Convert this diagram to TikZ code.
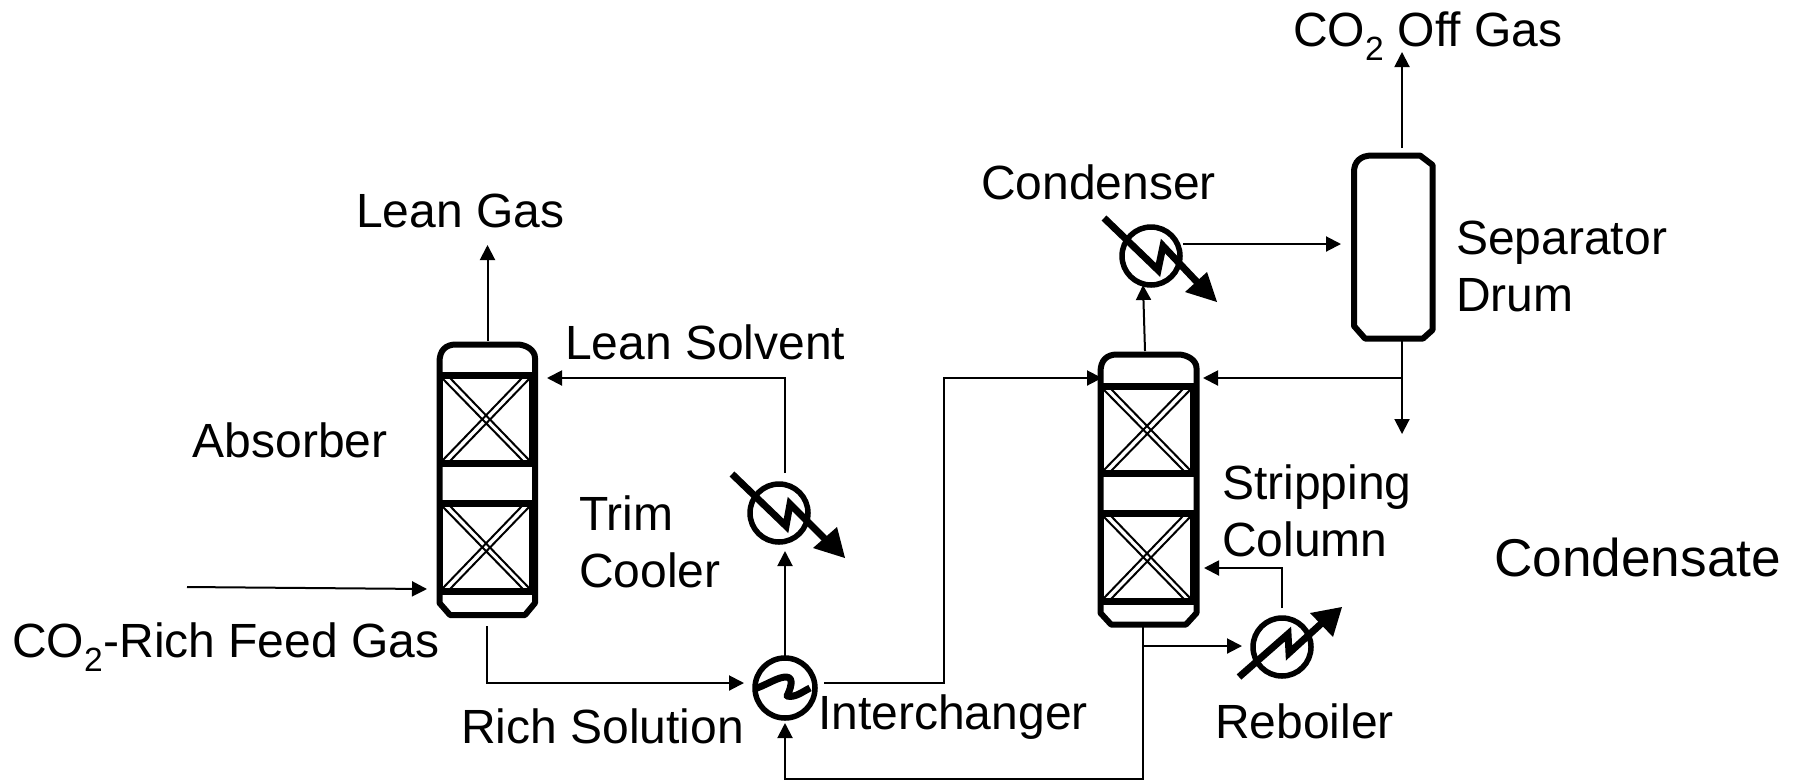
\documentclass[tikz,border=0pt]{standalone}
\usepackage{fontspec}
\setmainfont{Liberation Sans}
\usetikzlibrary{arrows.meta}
\tikzset{
  x=1pt,y=-1pt,
  flow/.style={line width=2pt,-{Triangle[length=15pt,width=15pt]}},
  vessel/.style={line width=6pt,line join=round},
  bar/.style={line width=6pt},
  packing/.style={line width=2pt},
  hxcircle/.style={circle,draw,line width=5.5pt,minimum size=58pt,inner sep=0pt,outer sep=0pt},
  hxline/.style={line width=7pt,miter limit=10},
  anchorbox/.style={inner sep=0pt,outer sep=0pt,draw=none},
  lab/.style={anchor=base west,inner sep=0pt,font=\fontsize{48}{57}\selectfont,align=left},
  labbig/.style={anchor=base west,inner sep=0pt,font=\fontsize{53.2}{60}\selectfont}
}
\newcommand{\packsection}[4]{%
  \draw[packing] (#1,#2) rectangle (#3,#4);
  \draw[packing] (#1,#2) -- (#3-7,#4) (#1+8,#2) -- (#3,#4)
                 (#1,#4) -- (#3-8,#2) (#1+8,#4) -- (#3,#2);
}
\begin{document}
\begin{tikzpicture}
\useasboundingbox (0,0) rectangle (1795,780);
\fill[white] (0,0) rectangle (1795,780);

% vessels (named)
\node[anchorbox,minimum width=96pt,minimum height=271pt] (absorber) at (487,480) {};
\node[anchorbox,minimum width=96pt,minimum height=271pt] (stripper) at (1148.5,489) {};
\node[anchorbox,minimum width=80pt,minimum height=183pt] (drum) at (1393,247) {};

% absorber
\packsection{442}{378}{530}{461}
\packsection{442}{506}{530}{589}
\draw[vessel] (439.5,362) .. controls (439.5,350) and (446,344.5) .. (456,344.5) -- (517,344.5)
  .. controls (526,344.5) and (535,350) .. (535,358) -- (535,603) -- (525,615) -- (450,615) -- (439.5,603) -- cycle;
\draw[line width=7pt] (533,378) -- (533,461) (533,506) -- (533,589);
\draw[bar] (439.5,375) -- (535,375) (439.5,464) -- (535,464) (439.5,503) -- (535,503) (439.5,592) -- (535,592);

% stripping column
\packsection{1103}{389}{1191}{471}
\packsection{1103}{516}{1191}{599}
\draw[vessel] (1100.5,372) .. controls (1100.5,360) and (1107,354.5) .. (1117,354.5) -- (1178,354.5)
  .. controls (1187,354.5) and (1196.5,360) .. (1196.5,368) -- (1196.5,613) -- (1186,624.5) -- (1111,624.5) -- (1100.5,613) -- cycle;
\draw[line width=7pt] (1194,389) -- (1194,471) (1194,516) -- (1194,599);
\draw[bar] (1100.5,386) -- (1196.5,386) (1100.5,474) -- (1196.5,474) (1100.5,513) -- (1196.5,513) (1100.5,602) -- (1196.5,602);

% separator drum
\draw[vessel] (1354,172) .. controls (1354,162) and (1360,155.5) .. (1372,155.5) -- (1420,155.5)
  -- (1432.5,165) -- (1432.5,330) -- (1423,338.5) -- (1365,338.5) -- (1354,326) -- cycle;

% heat exchangers
\node[hxcircle] (trim) at (779,513) {};
\node[hxcircle,minimum size=60pt] (inter) at (785,688) {};
\node[hxcircle] (cond) at (1151,256) {};
\node[hxcircle] (reb) at (1282,647) {};

\draw[hxline] (732,474) -- (786,526) -- (790,504) -- (826,540);
\fill (845,558) -- (813,548) -- (837,527) -- cycle;
\draw[hxline] (1104,218) -- (1158,270) -- (1163,246) -- (1197,282);
\fill (1217,302) -- (1185,292) -- (1207,272) -- cycle;
\draw[hxline] (1239,677) -- (1288,634) -- (1289,653) -- (1323,622);
\fill (1342,607) -- (1310,613) -- (1333,637) -- cycle;
\draw[line width=7pt,line join=round] (757,688) .. controls (768,684) and (778,677) .. (786,677)
  .. controls (795,677) and (790,690) .. (787,696) .. controls (795,698) and (802,692) .. (810,688);

% named connector ends
\coordinate (leanGasEnd) at (487.5,245);
\coordinate (absTop) at (487.5,341);
\coordinate (trimTop) at (785,473);
\coordinate (leanIn) at (547,378);
\coordinate (leanCorner) at (785,378);
\coordinate (trimIn) at (785,551);
\coordinate (interTop) at (785,658);
\coordinate (absBot) at (487,626);
\coordinate (richCorner) at (487,683);
\coordinate (richIn) at (744,683);
\coordinate (interOut) at (824,683);
\coordinate (c1) at (944,683);
\coordinate (c2) at (944,378);
\coordinate (stripIn) at (1102,378);
\coordinate (stripBot) at (1143,627);
\coordinate (c3) at (1143,779);
\coordinate (c4) at (785,779);
\coordinate (interBot) at (785,723);
\coordinate (rebFeedStart) at (1143,646);
\coordinate (rebIn) at (1242,646);
\coordinate (rebTop) at (1282,608);
\coordinate (c5) at (1282,568);
\coordinate (stripRet) at (1204,568);
\coordinate (stripTop) at (1145,351);
\coordinate (condIn) at (1143,285);
\coordinate (condOut) at (1183,244);
\coordinate (drumIn) at (1341,244);
\coordinate (drumTop) at (1402,148);
\coordinate (offGasEnd) at (1402,52);
\coordinate (drumBot) at (1402,341);
\coordinate (condensateEnd) at (1402,434);
\coordinate (branch) at (1402,378);
\coordinate (refluxIn) at (1203,378);
\coordinate (feedStart) at (187,587);
\coordinate (feedIn) at (427,589);

% connectors
\draw[flow] (absTop) -- (leanGasEnd);
\draw[flow] (trimTop) -- (leanCorner) -- (leanIn);
\draw[flow] (interTop) -- (trimIn);
\draw[flow] (absBot) -- (richCorner) -- (richIn);
\draw[flow] (interOut) -- (c1) -- (c2) -- (stripIn);
\draw[flow] (stripBot) -- (c3) -- (c4) -- (interBot);
\draw[flow] (rebFeedStart) -- (rebIn);
\draw[flow] (rebTop) -- (c5) -- (stripRet);
\draw[flow] (stripTop) -- (condIn);
\draw[flow] (condOut) -- (drumIn);
\draw[flow] (drumTop) -- (offGasEnd);
\draw[flow] (drumBot) -- (condensateEnd);
\draw[flow] (branch) -- (refluxIn);
\draw[flow] (feedStart) -- (feedIn);

% labels
\node[lab] (tOff) at (1293,46) {CO\textsubscript{2} Off Gas};
\node[lab] (tLeanGas) at (356,227) {Lean Gas};
\node[lab] (tCond) at (981,199) {Condenser};
\node[lab] (tSep) at (1456,311) {Separator\\Drum};
\node[lab] (tLeanSol) at (565,359) {Lean Solvent};
\node[lab] (tAbs) at (192.5,457) {Absorber};
\node[lab] (tTrim) at (579,587) {Trim\\Cooler};
\node[lab] (tFeed) at (12,657) {CO\textsubscript{2}-Rich Feed Gas};
\node[lab] (tRich) at (461,743) {Rich Solution};
\node[lab] (tInter) at (818,729) {Interchanger};
\node[lab] (tReb) at (1215,738) {Reboiler};
\node[lab] (tStrip) at (1222,556) {Stripping\\Column};
\node[labbig] (tCondensate) at (1494,576) {Condensate};
\end{tikzpicture}
\end{document}
